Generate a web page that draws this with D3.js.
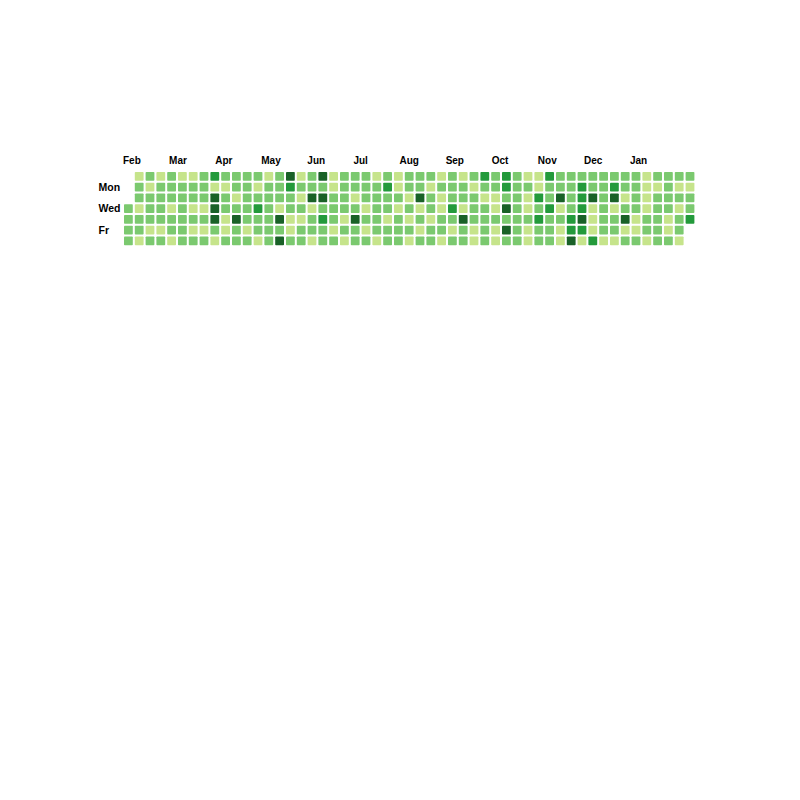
<!DOCTYPE html>
<html>
<head>
<meta charset="utf-8">
<script src="https://cdn.jsdelivr.net/npm/d3@7"></script>
<style>
  html, body { margin: 0; padding: 0; background: #ffffff; }
  svg text { font-family: "Liberation Sans", Arial, Helvetica, sans-serif; font-weight: bold; fill: #000; }
</style>
</head>
<body>
<svg id="chart" width="800" height="800"></svg>
<script>
// Month tick labels (Feb 2017 .. Jan 2018)
const months = ["Feb","Mar","Apr","May","Jun","Jul","Aug","Sep","Oct","Nov","Dec","Jan"];
// Weekday labels shown on the left
const dayLabels = [{day: 1, text: "Mon"}, {day: 3, text: "Wed"}, {day: 5, text: "Fr"}];
// Activity level colours (1 = low ... 4 = high)
const levelColors = ["#c6e48b", "#7bc96f", "#239a3b", "#196127"];

// Activity level per week column (53 weeks), one array per weekday; null = outside range
const sun = [null,1,2,1,2,1,1,2,3,2, 2,2,2,1,2,4,1,2,4,1, 2,2,2,1,2,1,2,2,2,1, 2,1,2,3,2,3,2,1,1,3, 2,2,2,2,2,2,2,2,1,2, 2,2,2];
const mon = [null,2,1,2,2,2,2,2,1,1, 2,2,1,2,2,3,2,2,2,1, 2,2,2,2,3,1,2,2,1,2, 2,2,1,2,2,3,2,2,1,2, 2,2,3,2,2,3,2,2,1,1, 2,1,1];
const tue = [null,2,2,2,2,2,2,2,4,2, 1,2,2,2,2,2,1,4,4,2, 2,1,2,2,2,2,1,4,2,1, 2,2,2,1,1,2,2,1,3,2, 4,2,3,4,2,4,1,2,1,2, 2,2,2];
const wed = [2,1,2,2,1,2,1,1,4,2, 2,2,3,2,1,2,2,1,2,2, 2,2,1,2,2,1,2,1,2,1, 3,1,2,2,1,4,2,1,2,3, 1,2,3,1,2,1,2,2,1,2, 2,1,2];
const thu = [2,2,2,2,2,2,2,2,4,1, 4,2,2,2,4,1,1,2,3,2, 1,4,2,2,1,2,1,2,1,2, 2,4,2,2,2,2,2,2,3,2, 2,3,4,1,2,2,4,1,2,2, 1,2,3];
const fri = [2,2,1,1,2,2,1,1,2,1, 2,1,2,2,2,1,2,2,2,1, 2,2,1,2,2,2,2,1,2,2, 1,2,1,2,1,4,2,1,2,2, 1,3,3,1,2,2,1,1,2,2, 1,2,null];
const sat = [2,1,2,2,1,2,2,2,1,2, 2,2,1,2,4,2,2,1,2,2, 1,2,2,1,2,2,1,2,2,1, 2,2,1,2,1,2,2,1,2,2, 1,4,1,3,1,1,2,2,1,2, 2,1,null];

const rows = [sun, mon, tue, wed, thu, fri, sat];
const cells = [];
rows.forEach((arr, day) => arr.forEach((v, week) => { if (v != null) cells.push({week, day, v}); }));

const svg = d3.select("#chart");

const nWeeks = 53;
const step = 10.8, gapFrac = 2 / 10.8;
const x = d3.scaleBand().domain(d3.range(nWeeks))
  .range([124, 124 + (nWeeks - gapFrac) * step]).paddingInner(gapFrac).paddingOuter(0);
const y = d3.scaleBand().domain(d3.range(7))
  .range([172, 172 + (7 - gapFrac) * 10.75]).paddingInner(gapFrac).paddingOuter(0);
const color = d3.scaleOrdinal().domain([1, 2, 3, 4]).range(levelColors);

svg.append("g").selectAll("rect").data(cells).join("rect")
  .attr("x", d => x(d.week))
  .attr("y", d => y(d.day))
  .attr("width", x.bandwidth())
  .attr("height", y.bandwidth())
  .attr("rx", 0.8)
  .attr("fill", d => color(d.v));

const mx = d3.scalePoint().domain(months).range([123, 630]);
svg.append("g").selectAll("text").data(months).join("text")
  .attr("x", d => mx(d))
  .attr("y", 164)
  .attr("font-size", 10)
  .text(d => d);

svg.append("g").selectAll("text").data(dayLabels).join("text")
  .attr("x", 98.5)
  .attr("y", d => y(d.day) + y.bandwidth() / 2)
  .attr("dy", "0.35em")
  .attr("font-size", 10.5)
  .text(d => d.text);
</script>
</body>
</html>
